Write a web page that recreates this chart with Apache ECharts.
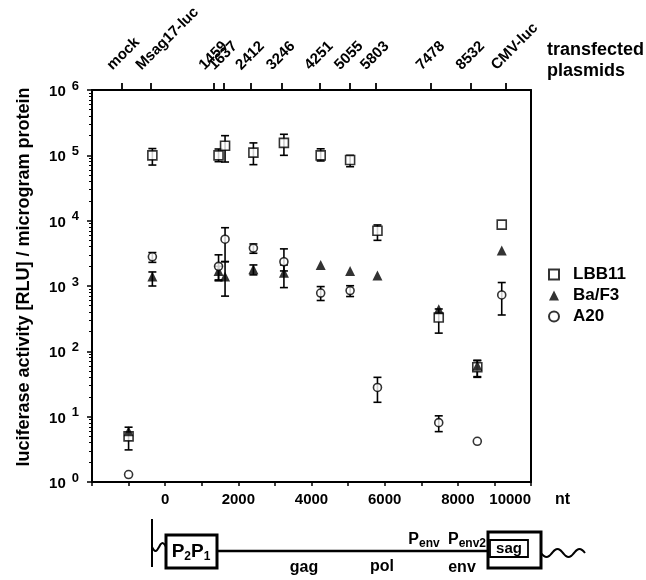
<!DOCTYPE html>
<html>
<head>
<meta charset="utf-8">
<script src="https://cdn.jsdelivr.net/npm/echarts@6/dist/echarts.min.js"></script>
<style>
  html, body { margin: 0; padding: 0; background: #fff; }
  #chart { width: 646px; height: 580px; }
</style>
</head>
<body>
<div id="chart"></div>
<script>
// plasmid positions (nt) of the data columns
const plasmidPos = [-1000, -350, 1459, 1637, 2412, 3246, 4251, 5055, 5803, 7478, 8532, 9200]
// top axis: tick positions as drawn in the figure, and their labels
const plasmidTicks = [-1180, -390, 1330, 1600, 2340, 3180, 4220, 5040, 5750, 7270, 8360, 9320]
const plasmidNames = ['mock', 'Msag17-luc', '1459', '1637', '2412', '3246', '4251', '5055', '5803', '7478', '8532', 'CMV-luc']

// LBB11 (squares)
const lbbVal = [5, 100000, 100000, 140000, 110000, 155000, 100000, 85000, 7000, 330, 57, 8700]
const lbbLow = [3.1, 71000, 80000, 79000, 72000, 100000, 82000, 67000, 5000, 190, 41, null]
const lbbHigh = [6.9, 127000, 125000, 200000, 155000, 210000, 126000, 100000, 8600, 445, 72, null]

// Ba/F3 (triangles)
const bafVal = [6, 1400, 1700, 1400, 1800, 1600, 2100, 1700, 1450, 440, 60, 3500]
const bafLow = [null, 1000, 1240, 700, 1480, 945, null, null, null, null, 40, null]
const bafHigh = [null, 1640, 2000, 2350, 2100, 2100, null, null, null, null, 73, null]

// A20 (circles)
const a20Val = [1.3, 2800, 2000, 5200, 3800, 2350, 780, 850, 28, 8.1, 4.2, 730]
const a20Low = [null, 2300, 1200, 2370, 3170, 1700, 600, 690, 16.6, 5.9, null, 360]
const a20High = [null, 3250, 3000, 7800, 4400, 3700, 980, 1010, 40, 10.3, null, 1130]

const FONT = "'Liberation Sans', Arial, sans-serif"

function points(vals) {
  return plasmidPos.map((x, i) => [x, vals[i]])
}
function bars(low, high) {
  const out = []
  plasmidPos.forEach((x, i) => {
    if (low[i] != null && high[i] != null) out.push([x, low[i], high[i]])
  })
  return out
}

function renderErr(params, api) {
  const x = api.value(0)
  const pLo = api.coord([x, api.value(1)])
  const pHi = api.coord([x, api.value(2)])
  const w = 4
  const st = { stroke: '#000', lineWidth: 1.6 }
  return {
    type: 'group',
    children: [
      { type: 'line', shape: { x1: pLo[0], y1: pLo[1], x2: pHi[0], y2: pHi[1] }, style: st },
      { type: 'line', shape: { x1: pLo[0] - w, y1: pLo[1], x2: pLo[0] + w, y2: pLo[1] }, style: st },
      { type: 'line', shape: { x1: pHi[0] - w, y1: pHi[1], x2: pHi[0] + w, y2: pHi[1] }, style: st }
    ]
  }
}

function errSeries(low, high) {
  return {
    type: 'custom',
    renderItem: renderErr,
    data: bars(low, high),
    encode: { x: 0, y: [1, 2] },
    silent: true,
    z: 1
  }
}

function wave(x0, x1, y, amp, periods) {
  const pts = []
  const n = periods * 8
  for (let i = 0; i <= n; i++) {
    const t = i / n
    pts.push([x0 + (x1 - x0) * t, y + amp * Math.sin(t * periods * 2 * Math.PI)])
  }
  return pts
}

const chart = echarts.init(document.getElementById('chart'))

chart.setOption({
  animation: false,
  textStyle: { fontFamily: FONT },
  grid: { left: 92, right: 115, top: 90, bottom: 98 },
  legend: {
    orient: 'vertical',
    left: 543,
    top: 261,
    itemWidth: 10,
    itemHeight: 10,
    itemGap: 4,
    textStyle: { fontFamily: FONT, fontWeight: 'bold', fontSize: 17, lineHeight: 17, color: '#000', padding: [0, 0, 0, 9] },
    data: ['LBB11', 'Ba/F3', 'A20']
  },
  xAxis: [
    {
      type: 'value',
      position: 'bottom',
      min: -2000,
      max: 10000,
      interval: 1000,
      splitLine: { show: false },
      axisLine: { lineStyle: { color: '#000', width: 2 } },
      axisTick: { length: 4, lineStyle: { color: '#000', width: 1.5 } },
      axisLabel: {
        color: '#000',
        fontWeight: 'bold',
        fontSize: 15,
        fontFamily: FONT,
        margin: 10,
        alignMaxLabel: 'right',
        formatter: v => (v >= 0 && v % 2000 === 0 ? String(v) : '')
      }
    },
    {
      type: 'value',
      position: 'top',
      min: -2000,
      max: 10000,
      splitLine: { show: false },
      axisLine: { lineStyle: { color: '#000', width: 2 } },
      axisTick: {
        customValues: plasmidTicks,
        length: 7,
        lineStyle: { color: '#000', width: 1.8 }
      },
      axisLabel: {
        customValues: plasmidTicks,
        rotate: -45,
        margin: 10,
        verticalAlign: 'bottom',
        padding: [0, 0, 10, 0],
        color: '#000',
        fontWeight: 'bold',
        fontSize: 15,
        fontFamily: FONT,
        formatter: v => plasmidNames[plasmidTicks.indexOf(v)] || ''
      }
    }
  ],
  yAxis: [
    {
      type: 'log',
      logBase: 10,
      min: 1,
      max: 1000000,
      splitNumber: 6,
      splitLine: { show: false },
      axisLine: { onZero: false, lineStyle: { color: '#000', width: 2 } },
      axisTick: { length: 5, lineStyle: { color: '#000', width: 1.5 } },
      minorTick: { show: true, splitNumber: 9, length: 3, lineStyle: { color: '#000', width: 1 } },
      axisLabel: {
        margin: 13,
        formatter: v => '{b|10}{e|' + Math.round(Math.log10(v)) + '}',
        rich: {
          b: { fontSize: 15, fontWeight: 'bold', color: '#000', fontFamily: FONT, padding: [4, 0, 0, 0] },
          e: { fontSize: 13, fontWeight: 'bold', color: '#000', fontFamily: FONT, padding: [0, 0, 8, 6] }
        }
      }
    },
    {
      type: 'log',
      position: 'right',
      min: 1,
      max: 1000000,
      splitLine: { show: false },
      axisLine: { show: true, onZero: false, lineStyle: { color: '#000', width: 2 } },
      axisTick: { show: false },
      axisLabel: { show: false }
    }
  ],
  series: [
    errSeries(lbbLow, lbbHigh),
    errSeries(bafLow, bafHigh),
    errSeries(a20Low, a20High),
    {
      name: 'LBB11',
      type: 'scatter',
      symbol: 'rect',
      symbolSize: 9,
      data: points(lbbVal),
      itemStyle: { color: '#fff', borderColor: '#000', borderWidth: 1.6 },
      z: 3
    },
    {
      name: 'Ba/F3',
      type: 'scatter',
      symbol: 'triangle',
      symbolSize: 10,
      data: points(bafVal),
      itemStyle: { color: '#000' },
      z: 4
    },
    {
      name: 'A20',
      type: 'scatter',
      symbol: 'circle',
      symbolSize: 8,
      data: points(a20Val),
      itemStyle: { color: '#fff', borderColor: '#000', borderWidth: 1.6 },
      z: 5
    }
  ],
  graphic: [
    {
      type: 'text', x: 24, y: 277, rotation: Math.PI / 2,
      style: { text: 'luciferase activity [RLU] / microgram protein', font: 'bold 18px ' + FONT, fill: '#000', align: 'center', verticalAlign: 'middle' }
    },
    { type: 'text', left: 547, top: 41, style: { text: 'transfected', font: 'bold 18px ' + FONT, fill: '#000' } },
    { type: 'text', left: 547, top: 62, style: { text: 'plasmids', font: 'bold 18px ' + FONT, fill: '#000' } },
    { type: 'text', left: 555, top: 492, style: { text: 'nt', font: 'bold 16px ' + FONT, fill: '#000' } },
    // genome map
    { type: 'line', shape: { x1: 152, y1: 519, x2: 152, y2: 567 }, style: { stroke: '#000', lineWidth: 2 } },
    { type: 'polyline', shape: { points: wave(152, 166, 547, 4, 1), smooth: 0.4 }, style: { stroke: '#000', lineWidth: 2, fill: null } },
    { type: 'rect', shape: { x: 166, y: 535, width: 51, height: 33 }, style: { stroke: '#000', lineWidth: 3, fill: '#fff' } },
    {
      type: 'text', x: 191, y: 552,
      style: {
        text: '{p|P}{s|2}{p|P}{s|1}',
        align: 'center', verticalAlign: 'middle',
        rich: {
          p: { font: 'bold 19px ' + FONT, fill: '#000' },
          s: { font: 'bold 12px ' + FONT, fill: '#000', padding: [10, 0, 0, 0] }
        }
      }
    },
    { type: 'line', shape: { x1: 217, y1: 551, x2: 488, y2: 551 }, style: { stroke: '#000', lineWidth: 2.5 } },
    { type: 'rect', shape: { x: 488, y: 532, width: 53, height: 36 }, style: { stroke: '#000', lineWidth: 3, fill: '#fff' } },
    { type: 'rect', shape: { x: 490, y: 540, width: 38, height: 17 }, style: { stroke: '#000', lineWidth: 1.8, fill: '#fff' } },
    { type: 'text', x: 509, y: 549, style: { text: 'sag', font: 'bold 15px ' + FONT, fill: '#000', align: 'center', verticalAlign: 'middle' } },
    { type: 'polyline', shape: { points: wave(541, 585, 553, 4, 2), smooth: 0.4 }, style: { stroke: '#000', lineWidth: 2, fill: null } },
    { type: 'text', x: 304, y: 568, style: { text: 'gag', font: 'bold 16px ' + FONT, fill: '#000', align: 'center', verticalAlign: 'middle' } },
    { type: 'text', x: 382, y: 567, style: { text: 'pol', font: 'bold 16px ' + FONT, fill: '#000', align: 'center', verticalAlign: 'middle' } },
    { type: 'text', x: 462, y: 568, style: { text: 'env', font: 'bold 16px ' + FONT, fill: '#000', align: 'center', verticalAlign: 'middle' } },
    {
      type: 'text', x: 424, y: 540,
      style: {
        text: '{p|P}{s|env}', align: 'center', verticalAlign: 'middle',
        rich: {
          p: { font: 'bold 16px ' + FONT, fill: '#000' },
          s: { font: 'bold 12px ' + FONT, fill: '#000', padding: [8, 0, 0, 0] }
        }
      }
    },
    {
      type: 'text', x: 467, y: 540,
      style: {
        text: '{p|P}{s|env2}', align: 'center', verticalAlign: 'middle',
        rich: {
          p: { font: 'bold 16px ' + FONT, fill: '#000' },
          s: { font: 'bold 12px ' + FONT, fill: '#000', padding: [8, 0, 0, 0] }
        }
      }
    }
  ]
})
</script>
</body>
</html>
